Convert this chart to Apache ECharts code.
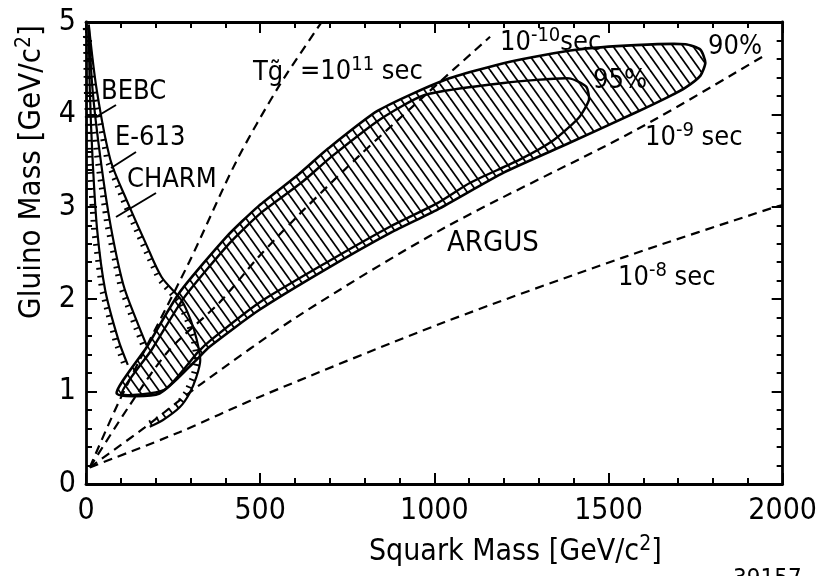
<!DOCTYPE html>
<html>
<head>
<meta charset="utf-8">
<script src="https://cdn.jsdelivr.net/npm/echarts@6/dist/echarts.min.js"></script>
<style>html,body{margin:0;padding:0;background:#fff}#main{width:820px;height:576px}</style>
</head>
<body>
<div id="main"></div>
<script>
var FONT = "'Liberation Sans Narrow', 'DejaVu Sans Condensed', 'Liberation Sans', sans-serif";

// tick labels
var xTicks = [0, 500, 1000, 1500, 2000];
var yTicks = [0, 1, 2, 3, 4, 5];

// gluino lifetime lines [squark mass, gluino mass]
var tau11 = [[11,0.18],[97,0.91],[296,2.40],[430,3.48],[553,4.30],[675,4.99]];
var tau10 = [[11,0.18],[125,0.85],[239,1.45],[382,1.96],[496,2.46],[618,2.94],[781,3.54],[980,4.23],[1160,4.84]];
var tau9  = [[11,0.18],[168,0.61],[333,1.09],[610,1.82],[1028,2.77],[1578,3.83],[1949,4.64]];
var tau8  = [[11,0.18],[268,0.56],[496,0.94],[1028,1.75],[1541,2.45],[1972,2.99],[2000,3.02]];

// ARGUS excluded region, 90% CL contour
var argus90 = [[88,0.98],[174,1.48],[268,2.07],[402,2.67],[496,3.01],[610,3.35],[695,3.63],[838,4.04],
  [1028,4.37],[1217,4.57],[1407,4.70],[1578,4.75],[1721,4.76],[1764,4.70],[1778,4.56],[1764,4.42],
  [1721,4.29],[1672,4.19],[1578,4.02],[1387,3.69],[1199,3.37],[1009,2.97],[875,2.72],[687,2.32],
  [496,1.88],[353,1.48],[316,1.34],[211,0.98]];
// 95% CL contour
var argus95 = [[103,0.98],[188,1.45],[282,2.02],[413,2.61],[504,2.94],[618,3.26],[704,3.54],[846,3.95],
  [972,4.21],[1199,4.34],[1387,4.39],[1436,4.30],[1444,4.16],[1416,3.97],[1342,3.72],[1245,3.51],
  [1103,3.26],[1009,3.04],[875,2.79],[687,2.39],[496,1.96],[359,1.56],[322,1.43],[225,1.02]];

// beam dump limits
var bebc  = [[8,4.97],[11,4.26],[19,3.51],[32,2.75],[55,2.10],[93,1.56],[120,1.29]];
var e613  = [[8,4.97],[19,4.26],[42,3.51],[70,2.81],[107,2.16],[145,1.77],[174,1.50]];
var charm = [[8,4.97],[31,4.26],[70,3.51],[117,3.07],[171,2.61],[217,2.24],[274,1.99],[301,1.77],
  [318,1.56],[328,1.34],[317,1.16],[297,0.98],[269,0.83],[220,0.69],[183,0.62]];

function hatchPattern() {
  var c = document.createElement('canvas');
  c.width = 10; c.height = 14;
  var g = c.getContext('2d');
  g.strokeStyle = '#000'; g.lineWidth = 1.7;
  [[-10, 0], [0, 0], [10, 0], [0, -14], [0, 14]].forEach(function (o) {
    g.beginPath(); g.moveTo(o[0], o[1]); g.lineTo(o[0] + 10, o[1] + 14); g.stroke();
  });
  return { image: c, repeat: 'repeat' };
}

function region(pts, fill, width) {
  return {
    type: 'custom', silent: true, data: [[0, 0]], z: 2,
    renderItem: function (params, api) {
      var p = pts.map(function (d) { return api.coord(d); });
      return { type: 'polygon', shape: { points: p, smooth: 0.2 },
        style: { fill: fill, stroke: '#000', lineWidth: width } };
    }
  };
}

function tickedCurve(pts, len, step) {
  return {
    type: 'custom', silent: true, data: [[0, 0]], z: 3,
    renderItem: function (params, api) {
      var p = pts.map(function (d) { return api.coord(d); });
      var kids = [{ type: 'polyline', shape: { points: p, smooth: 0.3 }, style: { stroke: '#000', lineWidth: 2.2, fill: null } }];
      var next = step / 2, cum = 0;
      for (var i = 1; i < p.length; i++) {
        var ax = p[i - 1][0], ay = p[i - 1][1], dx = p[i][0] - ax, dy = p[i][1] - ay;
        var L = Math.sqrt(dx * dx + dy * dy);
        while (next <= cum + L) {
          var t = (next - cum) / L, x = ax + t * dx, y = ay + t * dy;
          kids.push({ type: 'line', shape: { x1: x, y1: y, x2: x - dy / L * len, y2: y + dx / L * len },
            style: { stroke: '#000', lineWidth: 1.8 } });
          next += step;
        }
        cum += L;
      }
      return { type: 'group', children: kids };
    }
  };
}

function dashed(d) {
  return { type: 'line', data: d, smooth: 0.3, showSymbol: false, silent: true, z: 4,
    lineStyle: { color: '#000', width: 2.2, type: [9, 6] } };
}

function valAxis(pos, min, max, step, show, labels) {
  return {
    type: 'value', position: pos, min: min, max: max, interval: step,
    axisLine: { show: true, onZero: false, lineStyle: { color: '#000', width: 2.8 } },
    axisTick: { show: true, inside: true, length: 11, lineStyle: { color: '#000', width: 2 } },
    minorTick: { show: true, splitNumber: 5, length: 6, lineStyle: { color: '#000', width: 2 } },
    splitLine: { show: false },
    axisLabel: { show: show, color: '#000', fontFamily: FONT, fontSize: 30,
      margin: (pos === 'bottom' ? 12 : 10),
      formatter: function (v) { return labels.indexOf(v) >= 0 ? String(v) : ''; } }
  };
}

var sup = { fontFamily: FONT, fontSize: 20, color: '#000', padding: [0, 0, 14, 0] };
var nrm = { fontFamily: FONT, fontSize: 27, color: '#000' };

function label(x, y, txt, size) {
  return { type: 'text', x: x, y: y, z: 10, silent: true,
    style: { text: txt, fill: '#000', font: (size || 27) + 'px ' + FONT,
      textAlign: 'left', textVerticalAlign: 'middle', align: 'left', verticalAlign: 'middle',
      rich: { n: nrm, s: sup } } };
}
function leader(a, b) {
  return { type: 'line', z: 10, silent: true, shape: { x1: a[0], y1: a[1], x2: b[0], y2: b[1] },
    style: { stroke: '#000', lineWidth: 2 } };
}

var chart = echarts.init(document.getElementById('main'));
chart.setOption({
  animation: false,
  backgroundColor: '#fff',
  grid: { left: 86, right: 32, top: 22, bottom: 92, containLabel: false },
  xAxis: [
    Object.assign(valAxis('bottom', 0, 2000, 500, true, xTicks), {
      name: '{n|Squark Mass [GeV/c}{s|2}{n|]}', nameLocation: 'middle', nameGap: 50,
      nameTextStyle: { fontFamily: FONT, fontSize: 30, color: '#000', padding: [0, 0, 0, 162],
        rich: { n: { fontFamily: FONT, fontSize: 30, color: '#000' }, s: { fontFamily: FONT, fontSize: 21, color: '#000', padding: [0, 0, 15, 0] } } }
    }),
    valAxis('top', 0, 2000, 500, false, xTicks)
  ],
  yAxis: [
    Object.assign(valAxis('left', 0, 5, 1, true, yTicks), {
      name: '{n|Gluino Mass [GeV/c}{s|2}{n|]}', nameLocation: 'middle', nameRotate: 90, nameGap: 34,
      nameTextStyle: { fontFamily: FONT, fontSize: 31, color: '#000', padding: [0, 0, 0, 162],
        rich: { n: { fontFamily: FONT, fontSize: 31, color: '#000' }, s: { fontFamily: FONT, fontSize: 21, color: '#000', padding: [0, 0, 15, 0] } } }
    }),
    valAxis('right', 0, 5, 1, false, yTicks)
  ],
  series: [
    region(argus90, hatchPattern(), 2.6),
    region(argus95, 'rgba(0,0,0,0)', 2.4),
    tickedCurve(bebc, 6, 8),
    tickedCurve(e613, 6, 8),
    tickedCurve(charm, 6, 8),
    dashed(tau11), dashed(tau10), dashed(tau9), dashed(tau8)
  ],
  graphic: [
    label(101, 92, 'BEBC'),
    label(115, 138, 'E-613'),
    label(127, 180, 'CHARM'),
    label(447, 243, 'ARGUS', 29),
    label(593, 81, '95%'),
    label(708, 47, '90%'),
    label(253, 73, 'Tg\u0303'),
    label(300, 72, '{n|=10}{s|11}{n| sec}'),
    label(500, 43, '{n|10}{s|-10}{n|sec}'),
    label(645, 138, '{n|10}{s|-9}{n| sec}'),
    label(618, 278, '{n|10}{s|-8}{n| sec}'),
    label(733, 580, '39157', 24),
    leader([116, 105], [96, 117]),
    leader([136, 152], [111, 168]),
    leader([156, 193], [116, 217])
  ]
});
</script>
</body>
</html>
